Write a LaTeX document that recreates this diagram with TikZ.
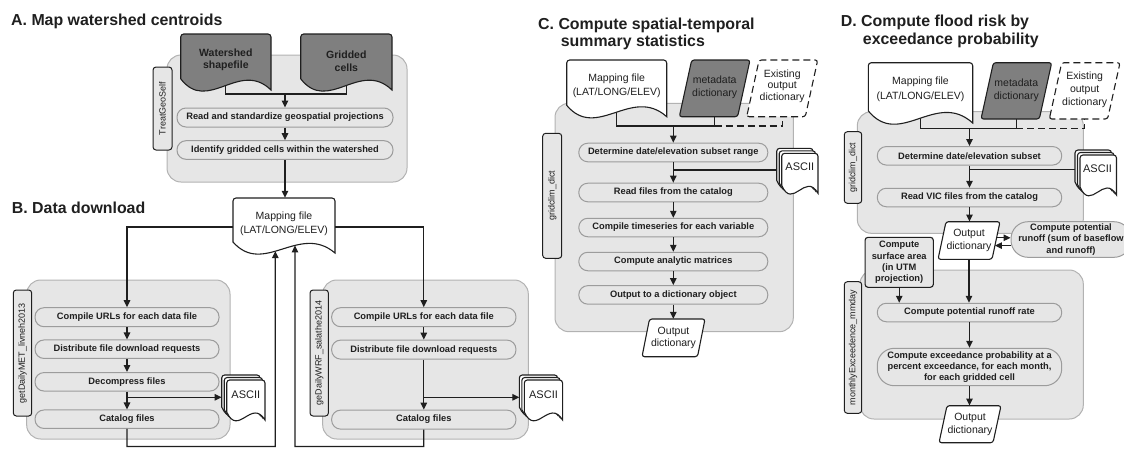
\documentclass[tikz,border=0pt]{standalone}
\usepackage{fontspec}
\setmainfont{Liberation Sans}
\usetikzlibrary{arrows.meta,intersections}

\definecolor{panelfill}{HTML}{E6E6E6}
\definecolor{panelline}{HTML}{B2B2B2}
\definecolor{stepline}{HTML}{9C9C9C}
\definecolor{darkdoc}{HTML}{7F7F7F}
\definecolor{ink}{HTML}{1F1F1F}

% document shape: straight top with rounded corners, wavy bottom
% #1 style, #2 left x, #3 top y, #4 right x, #5 lowest (right) y
\newcommand{\docshape}[5]{%
  \pgfmathsetmacro{\docW}{(#4)-(#2)}%
  \pgfmathsetmacro{\docH}{(#5)-(#3)}%
  \path[#1] ({#2},{#3+0.8*\docH}) [rounded corners=3pt] -- ({#2},{#3}) -- ({#4},{#3}) -- ({#4},{#3+8})
    [sharp corners] -- ({#4},{#5})
    .. controls ({#2+0.65*\docW},{#3+0.45*\docH}) and ({#2+0.3*\docW},{#3+1.43*\docH}) .. ({#2},{#3+0.8*\docH}) -- cycle;
}
% stack of three documents, back pages offset up and to the left
\newcommand{\docstack}[4]{%
  \docshape{docst}{#1}{#2}{#3-5}{#4-5}%
  \docshape{docst}{#1+2.5}{#2+2.5}{#3-2.5}{#4-2.5}%
  \docshape{docst}{#1+5}{#2+5}{#3}{#4}%
}
% parallelogram: #1 style, #2 bottom-left x, #3 top y, #4 top-right x, #5 bottom y, #6 slant
\newcommand{\paral}[6]{%
  \path[#1] ({#2},{#5}) -- ({#2+#6},{#3}) -- ({#4},{#3}) -- ({#4-#6},{#5}) -- cycle;
}

\tikzset{
  panel/.style={fill=panelfill, draw=panelline, line width=1pt, rounded corners=14pt},
  stepbox/.style={shape=rectangle, fill=panelfill, draw=stepline, line width=1pt, rounded corners=9pt,
    inner sep=0pt, align=center, text=ink, font=\bfseries\fontsize{9.3}{11.2}\selectfont},
  sidebox/.style={shape=rectangle, fill=panelfill, draw=ink, line width=1pt, rounded corners=3pt,
    inner sep=0pt, rotate=90, text=ink, font=\fontsize{9}{10}\selectfont},
  notebox/.style={shape=rectangle, fill=panelfill, draw=ink, line width=1.1pt, rounded corners=3pt,
    inner sep=0pt, align=center, text=ink, font=\bfseries\fontsize{9.3}{11.1}\selectfont},
  docst/.style={fill=white, draw=ink, line width=1.1pt},
  darkdocst/.style={fill=darkdoc, draw=ink, line width=1.1pt},
  dashpara/.style={fill=white, draw=ink, line width=1.1pt, dash pattern=on 7pt off 4pt, rounded corners=2.5pt},
  darkpara/.style={fill=darkdoc, draw=ink, line width=1.1pt, rounded corners=2.5pt},
  whitepara/.style={fill=white, draw=ink, line width=1.1pt, rounded corners=2.5pt},
  doctext/.style={inner sep=0pt, align=center, text=ink, font=\fontsize{10.5}{14.5}\selectfont},
  docbold/.style={inner sep=0pt, align=center, text=ink, font=\bfseries\fontsize{10.5}{12.5}\selectfont},
  paratext/.style={doctext, font=\fontsize{10.5}{12.6}\selectfont},
  asciitext/.style={doctext, font=\fontsize{11}{13}\selectfont},
  heading/.style={anchor=base west, inner sep=0pt, text=ink, font=\bfseries\fontsize{15.9}{18}\selectfont},
  flow/.style={draw=ink, line width=1.2pt, -{Triangle[length=7pt,width=6.5pt]}},
  link/.style={draw=ink, line width=1.2pt},
  dashlink/.style={draw=ink, line width=1.2pt, dash pattern=on 7pt off 4pt},
  wh/.style 2 args={minimum width=#1, minimum height=#2},
}

\begin{document}
\begin{tikzpicture}[x=1pt,y=-1pt]
\useasboundingbox (0,0) rectangle (1124,448);
\clip (0,0) rectangle (1124,448);

% ---------- headings ----------
\node[heading] (tA) at (11,25) {A. Map watershed centroids};
\node[heading] (tB) at (11.7,213.2) {B. Data download};
\node[heading] (tC1) at (538,29.7) {C. Compute spatial-temporal};
\node[heading] (tC2) at (560.7,46.5) {summary statistics};
\node[heading] (tD1) at (840.7,26.6) {D. Compute flood risk by};
\node[heading] (tD2) at (862.7,44.3) {exceedance probability};

% ---------- panels ----------
\draw[panel] (167,55) rectangle (407,182);
\draw[panel] (26.7,280) rectangle (230,439);
\draw[panel] (322.7,280) rectangle (528.3,439);
\draw[panel] (555,103.3) rectangle (793.3,331.7);
\draw[panel] (857.3,111.7) rectangle (1083.3,233.3);
\draw[panel] (860,270) rectangle (1083.3,419);

% ---------- side labels ----------
\node[sidebox, wh={83}{19}] (sA) at (162.5,108.5) {TreatGeoSelf};
\node[sidebox, wh={126}{18.4}] (sBL) at (22.5,353) {getDailyMET\_livneh2013};
\node[sidebox, wh={126}{18.4}] (sBR) at (319.2,353) {geDailyWRF\_salathe2014};
\node[sidebox, wh={125}{19}] (sC) at (552.2,195.8) {gridclim\_dict};
\node[sidebox, wh={71.6}{17.4}] (sD1) at (853,167.5) {gridclim\_dict};
\node[sidebox, wh={131.6}{17.4}] (sD2) at (853,347.5) {monthlyExceedence\_mmday};

% ---------- documents and data objects ----------
\node[docbold, wh={90}{51.4}] (ws) at (225.85,59.7) {};
\node[docbold, wh={91}{54.4}] (gc) at (346.35,61.2) {};
\coordinate (jA) at (285,94);
\draw[link] (ws.center) |- (jA) -| (gc.center);
\docshape{darkdocst}{180.7}{34}{271}{90}
\node[docbold] at (225.85,59.7) {Watershed\\shapefile};
\docshape{darkdocst}{300.7}{34}{392}{90}
\node[docbold] at (346.35,61.2) {Gridded\\cells};

\docshape{docst,name path=mapBw}{233}{198}{335}{253}
\node[doctext, wh={102}{52}] (mapB) at (284,224) {Mapping file\\(LAT/LONG/ELEV)};

% panel C inputs
\coordinate (jC) at (673.3,126);
\node[paratext, wh={70.7}{56.7}] (metaC) at (714.65,88.35) {};
\node[paratext, wh={71}{56.7}] (exC) at (782.2,88.35) {};
\node[doctext, wh={100}{52}] (mapC) at (616.7,86) {};
\draw[link] (mapC.center) |- (metaC.center |- jC) -- (metaC.center);
\draw[dashlink] (metaC.center |- jC) -| (exC.center);
\docshape{docst}{566.7}{60}{666.7}{116.7}
\node[doctext] at (616.7,86) {Mapping file\\(LAT/LONG/ELEV)};
\paral{darkpara}{679.3}{60}{750}{116.7}{12.4}
\node[paratext] at (714.65,87.2) {metadata\\dictionary};
\paral{dashpara}{746.7}{60}{817.7}{116.7}{12.4}
\node[paratext, font=\fontsize{10.5}{11.3}\selectfont] at (782.2,86.1) {Existing\\output\\dictionary};

% panel D inputs
\coordinate (jD) at (969.5,128.3);
\node[paratext, wh={70.7}{56.3}] (metaD) at (1016.35,90.85) {};
\node[paratext, wh={70.7}{56.3}] (exD) at (1084.65,90.85) {};
\node[doctext, wh={104.4}{53}] (mapD) at (920.5,89.2) {};
\draw[link] (mapD.center) |- (metaD.center |- jD) -- (metaD.center);
\draw[dashlink] (metaD.center |- jD) -| (exD.center);
\docshape{docst}{868.3}{62.7}{972.7}{123}
\node[doctext] at (920.5,89.2) {Mapping file\\(LAT/LONG/ELEV)};
\paral{darkpara}{981}{62.7}{1051.7}{119}{12.4}
\node[paratext, font=\fontsize{10.5}{13.5}\selectfont] at (1016.35,90.3) {metadata\\dictionary};
\paral{dashpara}{1049.3}{62.7}{1120}{119}{12.4}
\node[paratext, font=\fontsize{10.5}{13}\selectfont] at (1084.65,89.7) {Existing\\output\\dictionary};

% ASCII stacks
\docstack{221.7}{375}{265}{420}
\node[asciitext, wh={38}{30}] (aBL) at (245.8,395) {ASCII};
\coordinate (aBLin) at (221.7,397.3);
\docstack{519.3}{375}{562.6}{420}
\node[asciitext, wh={38}{30}] (aBR) at (543.5,395) {ASCII};
\coordinate (aBRin) at (519.3,397.3);
\docstack{776.7}{148.3}{818}{193.3}
\node[asciitext, wh={36}{30}] (aC) at (799.8,166.5) {ASCII};
\coordinate (aCout) at (776.7,170);
\docstack{1075}{150}{1116.5}{195}
\node[asciitext, wh={36}{30}] (aD) at (1097.5,169) {ASCII};
\coordinate (aDout) at (1075,169.3);

% output dictionaries
\paral{whitepara}{642}{319}{705}{356.7}{7.5}
\node[paratext, wh={63}{37.7}] (outC) at (673.5,337.85) {Output\\dictionary};
\paral{whitepara}{938}{221.7}{1000}{259.3}{8}
\node[paratext, wh={62}{37.6}] (outD1) at (969,240.5) {Output\\dictionary};
\paral{whitepara}{939}{405.7}{1001}{442.7}{8}
\node[paratext, wh={62}{37}] (outD2) at (970,424.2) {Output\\dictionary};

% ---------- process steps ----------
\node[stepbox, wh={216}{19}] (a1) at (285,117.5) {Read and standardize geospatial projections};
\node[stepbox, wh={216}{18.6}] (a2) at (285,150) {Identify gridded cells within the watershed};

\node[stepbox, wh={184}{19}] (bl1) at (127,317.2) {Compile URLs for each data file};
\node[stepbox, wh={184}{18.5}] (bl2) at (127,349.2) {Distribute file download requests};
\node[stepbox, wh={184}{18.5}] (bl3) at (127,381.8) {Decompress files};
\node[stepbox, wh={184}{18.5}] (bl4) at (127,419.2) {Catalog files};

\node[stepbox, wh={184.3}{19}] (br1) at (423.8,317.2) {Compile URLs for each data file};
\node[stepbox, wh={184.3}{19}] (br2) at (423.8,349.6) {Distribute file download requests};
\node[stepbox, wh={184.3}{19}] (br4) at (423.8,419.6) {Catalog files};

\node[stepbox, wh={189}{18.6}] (c1) at (673.3,152.5) {Determine date/elevation subset range};
\node[stepbox, wh={189}{18.6}] (c2) at (673.3,192.5) {Read files from the catalog};
\node[stepbox, wh={189}{18.5}] (c3) at (673.3,227.5) {Compile timeseries for each variable};
\node[stepbox, wh={189}{18.5}] (c4) at (673.3,261.5) {Compute analytic matrices};
\node[stepbox, wh={189}{18.5}] (c5) at (673.3,294.9) {Output to a dictionary object};

\node[stepbox, wh={184.4}{18.5}] (d1) at (969.5,155.8) {Determine date/elevation subset};
\node[stepbox, wh={184.4}{18.5}] (d2) at (969.5,197.5) {Read VIC files from the catalog};
\node[stepbox, wh={120}{35.6}, rounded corners=17pt] (runoff) at (1071,239.5) {Compute potential\\runoff (sum of baseflow\\and runoff)};
\node[notebox, wh={68.3}{50}] (sa) at (899.2,262.3) {Compute\\surface area\\(in UTM\\projection)};
\node[stepbox, wh={184.4}{18.5}] (d3) at (969.5,312.5) {Compute potential runoff rate};
\node[stepbox, wh={184.4}{37.4}, rounded corners=17pt] (d4) at (969.5,367) {Compute exceedance probability at a\\percent exceedance, for each month,\\for each gridded cell};

% ---------- connectors ----------
% A
\draw[flow] (jA) -- (jA |- a1.north);
\draw[flow] (a1.south) -- (a2.north);
\draw[flow] (a2.south) -- (a2.south |- mapB.north);

% B
\draw[flow] ([yshift=-3pt]mapB.west) -| (bl1.north);
\draw[flow] ([yshift=-3pt]mapB.east) -| (br1.north);
\draw[flow] (bl1.south) -- (bl2.north);
\draw[flow] (bl2.south) -- (bl3.north);
\draw[flow] (bl3.south) -- (bl4.north);
\coordinate (jBL) at (127,397.3);
\draw[flow] (jBL) -- (aBLin);
\draw[flow] (br1.south) -- (br2.north);
\draw[flow] (br2.south) -- (br4.north);
\coordinate (jBR) at (423.8,397.3);
\draw[flow] (jBR) -- (aBRin);

\path[name path=upL] (275.3,230) -- (275.3,290);
\path[name path=upR] (295,230) -- (295,290);
\path[name intersections={of=mapBw and upL, by=mBinL}];
\path[name intersections={of=mapBw and upR, by=mBinR}];
\coordinate (botL) at (275.3,446.4);
\coordinate (botR) at (295,446.4);
\draw[flow] (bl4.south) |- (botL) -- (mBinL);
\draw[flow] (br4.south) |- (botR) -- (mBinR);

% C
\draw[flow] (jC) -- (c1.north);
\draw[flow] (c1.south) -- (c2.north);
\coordinate (jC2) at (673.3,170);
\draw[link] (aCout) -- (jC2);
\draw[flow] (c2.south) -- (c3.north);
\draw[flow] (c3.south) -- (c4.north);
\draw[flow] (c4.south) -- (c5.north);
\draw[flow] (c5.south) -- (c5.south |- outC.north);

% D
\draw[flow] (jD) -- (d1.north);
\draw[flow] (d1.south) -- (d2.north);
\coordinate (jD2) at (969.5,169.3);
\draw[link] (aDout) -- (jD2);
\draw[flow] (d2.south) -- (d2.south |- outD1.north);
\coordinate (oDa) at (996.5,237.8);
\coordinate (oDb) at (994.9,245.6);
\draw[flow] (oDa) -- (oDa -| runoff.west);
\draw[flow] (runoff.west |- oDb) -- (oDb);
\draw[flow] (outD1.south) -- (outD1.south |- d3.north);
\draw[flow] (sa.south) -- (sa.south |- d3.north);
\draw[flow] (d3.south) -- (d4.north);
\draw[flow] (d4.south) -- (d4.south |- outD2.north);

\end{tikzpicture}
\end{document}
